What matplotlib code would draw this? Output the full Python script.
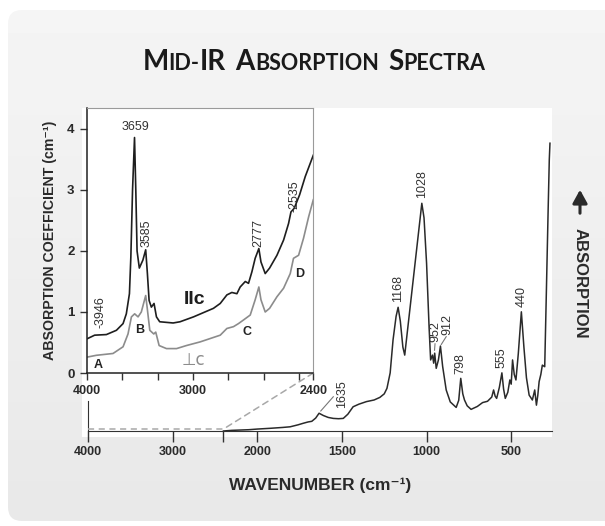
import matplotlib
matplotlib.use("Agg")
import matplotlib.pyplot as plt
import numpy as np
from matplotlib import font_manager as fm
from matplotlib.offsetbox import TextArea, HPacker, AnchoredOffsetbox
from matplotlib.patches import FancyBboxPatch, Rectangle, ConnectionPatch, FancyArrowPatch
from matplotlib.transforms import IdentityTransform

_names = {f.name for f in fm.fontManager.ttflist}
NARROW = "Liberation Sans Narrow" if "Liberation Sans Narrow" in _names else "Liberation Sans"
TITLE_FONT = "Lato" if "Lato" in _names else "DejaVu Sans"
plt.rcParams["font.family"] = [NARROW, "DejaVu Sans"]

# --- main spectrum (wavenumber cm-1, relative absorption 0-100) ---
main_wn = [2400, 2300, 2200, 2100, 2000, 1922, 1850, 1806, 1760, 1728, 1700, 1678,
           1655, 1635, 1610, 1581, 1551, 1520, 1492, 1465, 1434, 1400, 1355, 1310,
           1276, 1250, 1234, 1215, 1198, 1180, 1168, 1155, 1140, 1129, 1028, 1015,
           1000, 985, 976, 965, 958, 952, 943, 930, 918, 905, 884, 860, 825, 810,
           798, 786, 776, 760, 737, 700, 669, 640, 615, 604, 595, 586, 570, 555,
           545, 535, 520, 508, 500, 492, 482, 472, 458, 440, 425, 410, 394, 385,
           375, 361, 351, 343, 335, 325, 316, 302, 292, 282, 275, 271]
main_abs = [0.0, 0.2, 0.3, 0.4, 0.6, 0.84, 1.1, 1.3, 1.9, 2.4, 2.8, 3.0,
            4.0, 5.5, 4.8, 4.2, 3.9, 3.8, 3.9, 5.2, 7.5, 8.3, 9.1, 9.6,
            10.4, 11.5, 13.2, 18.0, 28.2, 35.5, 38.3, 34.0, 26.0, 23.5, 70.5, 66.0,
            52.0, 32.0, 22.0, 23.5, 21.0, 24.1, 19.4, 22.0, 26.3, 20.0, 12.7, 9.0, 7.3, 9.5,
            16.3, 11.5, 9.6, 7.8, 6.7, 7.6, 8.8, 9.2, 10.5, 12.7, 10.8, 10.1, 13.5, 18.0,
            13.0, 10.1, 12.0, 15.8, 14.5, 22.0, 17.5, 15.8, 24.0, 36.9, 26.0, 16.5, 11.1, 10.4,
            9.6, 12.7, 8.0, 11.0, 15.3, 17.5, 20.4, 19.9, 43.7, 68.0, 84.0, 89.1]

# --- inset: OH region, parallel and perpendicular to c ---
par_wn = [4000, 3946, 3863, 3792, 3745, 3722, 3700, 3690, 3678, 3664, 3655, 3646,
          3630, 3605, 3585, 3573, 3561, 3545, 3526, 3509, 3486, 3391, 3342, 3247,
          3106, 3058, 3011, 2976, 2940, 2917, 2881, 2858, 2834, 2811, 2785, 2770,
          2740, 2709, 2657, 2610, 2575, 2558, 2535, 2497, 2457, 2400]
par_abs = [0.56, 0.62, 0.63, 0.70, 0.81, 0.97, 1.30, 1.90, 3.00, 3.86, 3.00, 2.00,
           1.72, 1.85, 2.02, 1.63, 1.19, 1.08, 1.14, 0.92, 0.84, 0.82, 0.84, 0.92,
           1.06, 1.14, 1.28, 1.32, 1.30, 1.41, 1.50, 1.47, 1.66, 1.88, 2.04, 1.82,
           1.63, 1.72, 1.93, 2.18, 2.45, 2.64, 2.70, 2.92, 3.22, 3.57]
perp_wn = [4000, 3934, 3816, 3745, 3710, 3686, 3663, 3639, 3616, 3585, 3575, 3556,
           3528, 3514, 3490, 3438, 3367, 3297, 3200, 3058, 3011, 2964, 2929, 2893,
           2846, 2811, 2785, 2770, 2740, 2709, 2657, 2610, 2563, 2540, 2504, 2469,
           2433, 2400]
perp_abs = [0.26, 0.29, 0.32, 0.43, 0.64, 0.92, 0.97, 0.92, 1.00, 1.27, 1.08, 0.70,
            0.64, 0.67, 0.45, 0.40, 0.40, 0.45, 0.51, 0.62, 0.73, 0.76, 0.81, 0.87,
            0.95, 1.20, 1.41, 1.20, 1.00, 1.06, 1.25, 1.39, 1.63, 1.88, 1.93, 2.21,
            2.56, 2.84]

main_ticks = [4000, 3000, 2400, 2000, 1500, 1000, 500]
main_tick_labels = ["4000", "3000", "", "2000", "1500", "1000", "500"]
inset_major = [4000, 3250, 2400]
inset_major_labels = ["4000", "3000", "2400"]
inset_minor = [3750, 3500, 3000, 2750, 2500]

W, H = 605, 526


def fx(px):
    return px / W


def fy(py):
    return 1 - py / H


def _fwd(x):
    x = np.asarray(x, dtype=float)
    return np.where(x > 2000, 2000 + (x - 2000) / 2, x)


def _inv(x):
    x = np.asarray(x, dtype=float)
    return np.where(x > 2000, 2000 + (x - 2000) * 2, x)


fig = plt.figure(figsize=(W / 100, H / 100), dpi=100)
fig.patch.set_facecolor("white")

# rounded gray panel with a soft vertical gradient (panel drawn in pixel coords)
bg = fig.add_axes([0, 0, 1, 1], zorder=-3)
bg.axis("off")
grad = np.linspace(0.965, 0.905, 200).reshape(-1, 1)
img = bg.imshow(grad, extent=[-0.1, 1.1, -0.1, 1.1], aspect="auto", cmap="gray", vmin=0, vmax=1,
                interpolation="nearest")
bg.set_xlim(0, 1)
bg.set_ylim(0, 1)
panel = FancyBboxPatch((8, H - 521), 900, 511, boxstyle="round,pad=0,rounding_size=14",
                       transform=IdentityTransform(), facecolor="none", edgecolor="none")
bg.add_patch(panel)
img.set_clip_path(panel)

fig.add_artist(Rectangle((fx(82), fy(437)), fx(552) - fx(82), fy(108) - fy(437),
                         transform=fig.transFigure, facecolor="white", edgecolor="none", zorder=-1))

# --- main axes ---
ax = fig.add_axes([fx(88), fy(431), fx(552) - fx(88), fy(108) - fy(431)])
ax.patch.set_visible(False)
ax.set_xscale("function", functions=(_fwd, _inv))
ax.set_xlim(4000, 259)
ax.set_ylim(0, 100)
ax.plot(main_wn, main_abs, color="#2a2a2a", lw=1.1, zorder=3)
ax.plot([4000, 2400], [0.6, 0.6], color="#a8a8a8", lw=1.1, dashes=(4, 3), zorder=4, clip_on=False)
for side in ("top", "right"):
    ax.spines[side].set_visible(False)
ax.spines["left"].set_bounds(0, 9.3)
ax.spines["left"].set_color("#333333")
ax.spines["bottom"].set_color("#333333")
ax.set_yticks([])
ax.set_xticks(main_ticks)
ax.set_xticklabels(main_tick_labels, fontweight="bold", fontsize=9, color="#2a2a2a")
ax.xaxis.set_minor_locator(plt.NullLocator())
ax.tick_params(axis="x", direction="out", length=8, width=1.0, pad=3, color="#333333")
ax.set_xlabel("WAVENUMBER (cm⁻¹)", fontsize=12.5, fontweight="bold", color="#2a2a2a", labelpad=14)

lbl_kw = dict(rotation=90, ha="center", va="bottom", fontsize=9, color="#333333",
              family=["Liberation Sans", "DejaVu Sans"])
for wn, yv, txt in [(1168, 40, "1168"), (1028, 72, "1028"), (798, 17.5, "798"),
                    (555, 19.5, "555"), (440, 38.5, "440"), (945, 27.5, "952"),
                    (875, 29.8, "912"), (1502, 7.2, "1635")]:
    ax.text(wn, yv, txt, **lbl_kw)
ax.plot([1551, 1625], [10.6, 6.2], color="#777777", lw=0.8)
ax.plot([884, 913], [29.2, 26.8], color="#777777", lw=0.8)
ax.plot([950, 953], [27.0, 25.0], color="#777777", lw=0.8)

# --- inset axes ---
axin = fig.add_axes([fx(87), fy(373), fx(313.3) - fx(87), fy(108) - fy(373)], zorder=3)
axin.set_facecolor("white")
axin.set_xlim(4000, 2400)
axin.set_ylim(0, 4.344)
axin.plot(perp_wn, perp_abs, color="#8c8c8c", lw=1.2)
axin.plot(par_wn, par_abs, color="#1e1e1e", lw=1.2)
for side in ("left", "bottom"):
    axin.spines[side].set_color("#222222")
    axin.spines[side].set_linewidth(1.1)
for side in ("top", "right"):
    axin.spines[side].set_color("#9a9a9a")
    axin.spines[side].set_linewidth(0.8)
axin.set_xticks(inset_major)
axin.set_xticklabels(inset_major_labels, fontweight="bold", fontsize=9, color="#2a2a2a")
axin.set_xticks(inset_minor, minor=True)
axin.set_yticks([0, 1, 2, 3, 4])
axin.set_yticklabels(["0", "1", "2", "3", "4"], fontweight="bold", fontsize=9.5, color="#2a2a2a")
axin.tick_params(which="both", direction="out", length=5, width=1.0, pad=4, color="#333333")
axin.set_ylabel("ABSORPTION COEFFICIENT (cm⁻¹)", fontsize=10.2, fontweight="bold",
                color="#2a2a2a", labelpad=7)

axin.text(3660, 3.93, "3659", ha="center", va="bottom", fontsize=9, color="#333333",
          family=["Liberation Sans", "DejaVu Sans"])
for wn, yv, txt in [(3582, 2.07, "3585"), (2791, 2.07, "2777"),
                    (3908, 0.74, "-3946"), (2535, 2.64, "-2535")]:
    axin.text(wn, yv, txt, **lbl_kw)
axin.text(3242, 1.20, "IIc", ha="center", va="center", fontsize=14, fontweight="bold", color="#1e1e1e")
axin.text(3248, 0.21, "⊥c", ha="center", va="center", fontsize=12, color="#8c8c8c",
          family=["DejaVu Sans"])
for wn, yv, txt in [(3922, 0.13, "A"), (3625, 0.70, "B"), (2869, 0.68, "C"), (2497, 1.63, "D")]:
    axin.text(wn, yv, txt, ha="center", va="center", fontsize=9, fontweight="bold", color="#222222")

con = ConnectionPatch(xyA=(1, 0), coordsA=axin.transAxes, xyB=(2400, 0.6), coordsB=ax.transData,
                      color="#a8a8a8", lw=1.1, linestyle=(0, (4, 3)), zorder=2)
fig.add_artist(con)

# --- right-hand label with upward arrow ---
fig.text(fx(580), fy(283), "ABSORPTION", rotation=-90, ha="center", va="center",
         fontsize=12, fontweight="bold", color="#2a2a2a")
fig.add_artist(FancyArrowPatch((fx(580), fy(216)), (fx(580), fy(187)), transform=fig.transFigure,
                               arrowstyle="-|>,head_length=4,head_width=2.2", mutation_scale=2,
                               lw=2.2, color="#2a2a2a"))

# --- title in small caps ---
big = dict(fontsize=20, fontweight="bold", family=TITLE_FONT, color="#1a1a1a")
small = dict(fontsize=15.5, fontweight="bold", family=TITLE_FONT, color="#1a1a1a")


def _word(parts):
    return HPacker(children=[TextArea(t, textprops=p) for t, p in parts], align="baseline", pad=0, sep=0)


words = [_word([("M", big), ("ID-", small), ("IR", big)]),
         _word([("A", big), ("BSORPTION", small)]),
         _word([("S", big), ("PECTRA", small)])]
title_box = HPacker(children=words, align="baseline", pad=0, sep=7)
anch = AnchoredOffsetbox(loc="center", child=title_box, bbox_to_anchor=(fx(314), fy(62)),
                         bbox_transform=fig.transFigure, frameon=False, pad=0, borderpad=0)
fig.add_artist(anch)

fig.savefig("out.png", dpi=100)
